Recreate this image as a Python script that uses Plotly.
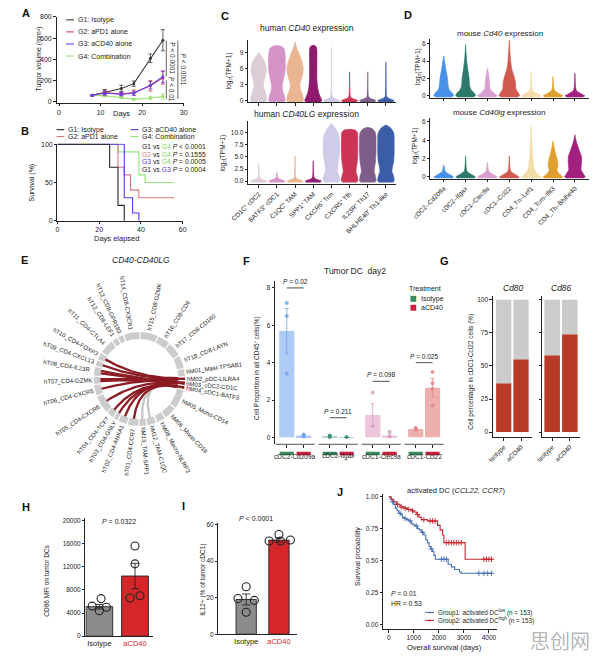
import numpy as np
import plotly.graph_objects as go
from collections import defaultdict

W, H = 596, 659
FONT = "Liberation Sans, Arial, Helvetica, sans-serif"
INK = "#222222"

# ============================ DATA ============================
# Panel A - tumour growth curves
a_days = [8, 11, 15, 18, 22, 25]
a_g1 = [60, 90, 125, 170, 410, 580]
a_g1_err = [6, 25, 30, 25, 40, 100]
a_g2 = [60, 85, 72, 85, 150, 225]
a_g2_err = [6, 20, 15, 25, 50, 60]
a_g3 = [60, 80, 70, 80, 155, 235]
a_g3_err = [6, 20, 15, 20, 35, 55]
a_g4 = [60, 55, 40, 22, 35, 48]
a_g4_err = [6, 10, 10, 8, 15, 25]
a_names = ["G1: Isotype", "G2: aPD1 alone", "G3: aCD40 alone", "G4: Combination"]
a_pvals = ["<i>P</i> &lt; 0.0001", "<i>P</i> &lt; 0.01", "<i>P</i> &lt; 0.0001"]

# Panel B - survival
b_g1_t = [0, 25, 29, 32]
b_g1_s = [100, 70, 20, 0]
b_g2_t = [0, 29, 32, 35, 39, 56]
b_g2_s = [100, 70, 60, 40, 30, 30]
b_g3_t = [0, 32, 36, 39]
b_g3_s = [100, 30, 10, 0]
b_g4_t = [0, 29, 39, 42, 56]
b_g4_s = [100, 90, 60, 50, 50]
b_cmp_a = ["G1", "G2", "G3", "G1"]
b_cmp_b = ["G4", "G4", "G4", "G3"]
b_cmp_p = ["&lt; 0.0001", "= 0.1555", "= 0.0005", "= 0.0004"]

# Panel C - human violins (profile: levels / relative half-widths)
c_labels = ["CD1C⁺ cDC2", "BATF3⁺ cDC1", "C1QC⁺ TAM", "SPP1⁺ TAM", "CXCR6⁺ Trm",
            "CXCR5⁺ Tfh", "IL23R⁺ Th17", "BHLHE40⁺ Th1-like"]


def spike(top, base):
    return [base, 0, 0.25, 0.6, 1.0, top], [0.33, 0.45, 0.28, 0.07, 0.03, 0.0]


c_cd40 = [
    ([-0.3, 0, 0.8, 1.8, 2.6, 3.5, 4.5, 5.5, 6.5, 7.5, 8.3, 9.0],
     [0.33, 0.44, 0.42, 0.34, 0.26, 0.28, 0.36, 0.42, 0.40, 0.30, 0.14, 0.0]),
    ([-0.3, 0, 1, 2, 3, 4, 5, 6, 7, 8, 9, 9.8, 10.2, 10.35],
     [0.33, 0.45, 0.40, 0.30, 0.30, 0.36, 0.42, 0.46, 0.46, 0.46, 0.44, 0.38, 0.22, 0.0]),
    ([-0.3, 0, 1, 2, 3, 4, 5, 6, 7, 8, 9, 10, 11],
     [0.33, 0.45, 0.42, 0.30, 0.26, 0.34, 0.42, 0.45, 0.40, 0.30, 0.20, 0.08, 0.0]),
    ([-0.3, 0, 0.6, 1.5, 2.5, 4, 6, 8, 9.5, 10.1, 10.4],
     [0.33, 0.47, 0.40, 0.30, 0.24, 0.20, 0.20, 0.20, 0.20, 0.16, 0.0]),
    spike(10.0, -0.3), spike(5.4, -0.3), spike(5.4, -0.3), spike(7.2, -0.3),
]
c_cd40lg = [
    spike(3.7, -0.3), spike(1.8, -0.3), spike(5.2, -0.3), spike(4.2, -0.3),
    ([-0.3, 0, 1, 2, 3, 4, 5, 6, 7, 8, 9, 10, 11, 11.9],
     [0.33, 0.45, 0.42, 0.34, 0.34, 0.38, 0.42, 0.45, 0.45, 0.45, 0.43, 0.35, 0.20, 0.0]),
    ([-0.3, 0, 1, 2, 3, 4, 6, 8, 9, 10, 10.5, 10.7],
     [0.33, 0.45, 0.42, 0.35, 0.38, 0.42, 0.45, 0.45, 0.45, 0.43, 0.32, 0.0]),
    ([-0.3, 0, 1, 2, 3, 4, 6, 8, 9, 10, 10.8, 11.1],
     [0.33, 0.45, 0.42, 0.35, 0.38, 0.42, 0.45, 0.45, 0.45, 0.42, 0.25, 0.0]),
    ([-0.3, 0, 1, 2, 3, 4, 6, 8, 9, 10, 11, 11.6],
     [0.33, 0.45, 0.42, 0.33, 0.36, 0.42, 0.45, 0.45, 0.45, 0.42, 0.25, 0.0]),
]

# Panel D - mouse violins
d_labels = ["cDC2–Cd209a", "cDC2–Itgax", "cDC1–Clec9a", "cDC1–Ccl22",
            "CD4_Tn–Lef1", "CD4_Tcm–Ifit3", "CD4_Th–Bhlhe40"]
d_cd40 = [
    ([-0.15, 0, 0.3, 0.7, 1.2, 2, 3, 4, 4.6],
     [0.33, 0.45, 0.40, 0.25, 0.20, 0.17, 0.10, 0.04, 0.0]),
    ([-0.15, 0, 0.3, 0.7, 1.2, 2, 3, 4, 5, 5.9],
     [0.33, 0.45, 0.40, 0.25, 0.18, 0.16, 0.10, 0.05, 0.02, 0.0]),
    ([-0.15, 0, 0.3, 0.8, 1.5, 2.5, 3.2],
     [0.33, 0.45, 0.30, 0.12, 0.10, 0.05, 0.0]),
    ([-0.15, 0, 0.3, 0.8, 1.5, 2.2, 3, 4, 5, 6.4],
     [0.33, 0.47, 0.42, 0.30, 0.28, 0.22, 0.12, 0.06, 0.03, 0.0]),
    spike(2.8, -0.15), spike(2.2, -0.15), spike(2.6, -0.15),
]
d_cd40lg = [
    spike(1.3, -0.15), spike(2.3, -0.15), spike(1.6, -0.15), spike(2.3, -0.15),
    ([-0.15, 0, 0.3, 0.8, 1.5, 2.5, 3.5, 4.5, 5.6],
     [0.33, 0.45, 0.30, 0.15, 0.10, 0.06, 0.04, 0.02, 0.0]),
    ([-0.15, 0, 0.3, 0.7, 1.2, 1.8, 2.5, 3.2, 3.9],
     [0.33, 0.45, 0.30, 0.18, 0.22, 0.20, 0.12, 0.05, 0.0]),
    ([-0.15, 0, 0.3, 0.8, 1.5, 2.2, 3, 3.8, 4.6],
     [0.33, 0.47, 0.40, 0.28, 0.30, 0.30, 0.18, 0.07, 0.0]),
]

# Panel E - CD40-CD40LG chord diagram
e_segments = ["hT01_CD4-CCR7", "hT02_CD4-ANXA1", "hT03_CD4-GNLY", "hT04_CD4-TCF7",
              "hT05_CD4-CXCR6", "hT06_CD4-CXCR5", "hT07_CD4-GZMK", "hT08_CD4-IL23R",
              "hT09_CD4-CXCL13", "hT10_CD4-FOXP3", "hT11_CD4-CTLA4", "hT12_CD8-LEF1",
              "hT13_CD8-GPR183", "hT14_CD8-CX3CR1", "hT15_CD8-GZMK", "hT16_CD8-CD6",
              "hT17_CD8-CD160", "hT18_CD8-LAYN", "hM01_Mast-TPSAB1", "hM02_pDC-LILRA4",
              "hM03_cDC2-CD1C", "hM04_cDC1-BATF3", "hM05_Mono-CD14", "hM06_Mono-CD16",
              "hM08_Macro-NLRP3", "hM12_TAM-C1QC", "hM13_TAM-SPP1"]
e_sizes = [12, 10, 5, 8, 20, 12, 8, 10, 6, 8, 16, 6, 6, 18, 20, 14, 16, 14,
           8, 3, 4, 3, 22, 14, 10, 10, 8]
e_link_src = ["hM03", "hM04", "hM02", "hM02", "hM03", "hM03", "hM03", "hM02",
              "hM02", "hM03", "hM04", "hM04", "hM03", "hM04"]
e_link_dst = ["hM12", "hM13", "hT10", "hT09", "hT08", "hT08", "hT07", "hT07",
              "hT06", "hT05", "hT04", "hT03", "hT02", "hT01"]

# Panel F - tumour DC proportions
f_groups = ["cDC2-Cd209a", "cDC2-Itgax", "cDC1-Clec9a", "cDC1-Ccl22"]
f_iso_mean = [5.7, 0.05, 1.2, 0.45]
f_iso_sem = [1.2, 0.03, 0.6, 0.06]
f_cd40_mean = [0.1, 0.01, 0.1, 2.65]
f_cd40_sem = [0.05, 0.01, 0.08, 0.5]
f_iso_pts = [[7.2, 6.5, 3.4], [0.1, 0.02], [2.4, 0.6], [0.5, 0.45, 0.4]]
f_cd40_pts = [[0.05, 0.1, 0.15], [0.02], [0.3, 0.05], [3.5, 2.9, 2.6, 1.7]]
f_pvals = ["0.02", "0.211", "0.098", "0.025"]
f_pline_y = [8.0, 1.05, 3.0, 4.0]
f_treat = ["Isotype", "aCD40"]

# Panel G - Cd80 / Cd86 positive fraction
g_markers = ["Cd80", "Cd86"]
g_treat = ["Isotype", "aCD40"]
g_pos_pct = [[37, 55], [58, 74]]

# Panel H - CD86 MFI
h_groups = ["Isotype", "aCD40"]
h_mean = [5100, 10400]
h_sem = [400, 2200]
h_pts = [[6500, 5200, 5000, 4400], [15600, 12500, 6600, 7000]]
h_jitter = [[0.05, -0.2, 0.2, 0.0], [0.0, 0.0, -0.14, 0.14]]

# Panel I - IL12+
i_groups = ["Isotype", "aCD40"]
i_mean = [19, 51.5]
i_sem = [3, 1.2]
i_pts = [[26, 19.5, 18.5, 12], [54.5, 51, 51, 51.5]]
i_jitter = [[0.0, -0.25, 0.25, 0.0], [0.0, -0.3, 0.05, 0.35]]

# Panel J - Kaplan-Meier
j_low_t = [0, 60, 130, 200, 260, 330, 400, 470, 540, 600, 700, 800, 900, 960, 1050,
           1150, 1220, 1300, 1400, 1480, 1550, 1610, 1680, 1740, 1800, 1860, 2370,
           2500, 2630, 2820, 2890, 4150]
j_low_s = [1.0, 0.98, 0.96, 0.94, 0.91, 0.89, 0.87, 0.86, 0.84, 0.83, 0.82, 0.81,
           0.79, 0.78, 0.77, 0.75, 0.74, 0.72, 0.70, 0.66, 0.64, 0.61, 0.59, 0.57,
           0.54, 0.51, 0.47, 0.45, 0.43, 0.41, 0.40, 0.40]
j_high_t = [0, 100, 200, 300, 450, 600, 750, 900, 1000, 1100, 1200, 1300, 1550,
            1950, 2050, 2150, 2200, 3050, 4150]
j_high_s = [1.0, 0.98, 0.96, 0.94, 0.92, 0.91, 0.90, 0.89, 0.88, 0.86, 0.84, 0.82,
            0.81, 0.775, 0.74, 0.70, 0.64, 0.51, 0.51]
j_low_cens = [150, 450, 650, 850, 1100, 1350, 1700, 2100, 2200, 2300, 3600, 3800,
              3950, 4100]
j_high_cens = [350, 500, 650, 800, 950, 1150, 1400, 1650, 1750, 1850, 2300, 2400,
               2500, 2600, 2700, 2800, 2900, 3800, 3900, 4000, 4100]
j_names = ["Group1: activated DC<sup>low</sup> (n = 153)",
           "Group2: activated DC<sup>high</sup> (n = 153)"]

# ============================ STYLE / HELPERS ============================
A_COL = ["#3a3a3a", "#d2405c", "#6a3ee6", "#9ee36c"]
B_COL = ["#222222", "#d9787a", "#4b3de6", "#8fe67a"]
C_COL_TOP = ["#dccdd8", "#d494c8", "#e9b592", "#8e1b6e", "#cfcbe8", "#cc3456", "#7e5d8a", "#3b5ca6"]
D_COL = ["#4a90e8", "#2d7a6c", "#d8a0d0", "#d05a50", "#f3dca8", "#e0a030", "#a3207f"]
F_FILL = ["#aecbf5", "#b5d6c9", "#ecc6dc", "#eeb0ae"]
F_DOT = ["#6fa4ee", "#3b8d6d", "#d9a0c3", "#e08a8a"]
F_TREAT = ["#3a8a5c", "#c8203c"]
RED = "#b83b28"
CHORD_RED = "#8b1c24"
LOG2 = "log₂(TPM+1)"

fig = go.Figure()
annotations = []
shapes = []
AX = [0]


def px2x(x):
    return x / W


def px2y(y):
    return 1 - y / H


def pann(x, y, text, size=7, color=INK, xanchor="center", yanchor="middle",
         textangle=0, family=FONT):
    annotations.append(dict(x=px2x(x), y=px2y(y), xref="paper", yref="paper", text=text,
                            showarrow=False, xanchor=xanchor, yanchor=yanchor,
                            textangle=textangle, borderpad=0,
                            font=dict(size=size, color=color, family=family)))


def pline(x0, y0, x1, y1, color=INK, width=0.8):
    shapes.append(dict(type="line", xref="paper", yref="paper", x0=px2x(x0), y0=px2y(y0),
                       x1=px2x(x1), y1=px2y(y1), line=dict(color=color, width=width)))


def prect(x0, y0, x1, y1, color):
    shapes.append(dict(type="rect", xref="paper", yref="paper", x0=px2x(x0), y0=px2y(y0),
                       x1=px2x(x1), y1=px2y(y1), line=dict(width=0), fillcolor=color))


def add_axes(x0, x1, y0, y1, xr, yr, xkw=None, ykw=None, tick_size=7):
    AX[0] += 1
    n = AX[0]
    s = "" if n == 1 else str(n)
    base = dict(showline=True, linecolor=INK, linewidth=0.8, ticks="outside", ticklen=2.5,
                tickwidth=0.8, tickcolor=INK, showgrid=False, zeroline=False,
                fixedrange=True)
    xd = dict(base, domain=[x0 / W, x1 / W], range=xr, anchor="y" + s,
              tickfont=dict(size=tick_size, family=FONT, color=INK))
    yd = dict(base, domain=[1 - y1 / H, 1 - y0 / H], range=yr, anchor="x" + s,
              tickfont=dict(size=tick_size, family=FONT, color=INK))
    if xkw:
        xd.update(xkw)
    if ykw:
        yd.update(ykw)
    fig.update_layout({"xaxis" + s: xd, "yaxis" + s: yd})
    return "x" + s, "y" + s


def add(tr, xa, ya):
    tr.update(xaxis=xa, yaxis=ya, showlegend=False, hoverinfo="skip")
    fig.add_trace(tr)


def violin(xa, ya, center, prof, color):
    lv = np.array(prof[0], float)
    wd = np.array(prof[1], float)
    xs = np.concatenate([center + wd, (center - wd)[::-1]])
    ys = np.concatenate([lv, lv[::-1]])
    add(go.Scatter(x=xs, y=ys, mode="lines", fill="toself", fillcolor=color,
                   line=dict(color=color, width=0.7, shape="spline", smoothing=0.6)), xa, ya)


# ============================ PANEL A ============================
xa, ya = add_axes(40, 172, 13, 100, [-0.6, 30], [-12, 800],
                  xkw=dict(tickvals=[0, 10, 20, 30]),
                  ykw=dict(tickvals=[0, 200, 400, 600, 800]))
for vals, errs, col in [(a_g1, a_g1_err, A_COL[0]), (a_g4, a_g4_err, A_COL[3]),
                        (a_g2, a_g2_err, A_COL[1]), (a_g3, a_g3_err, A_COL[2])]:
    add(go.Scatter(x=a_days, y=vals, mode="lines+markers",
                   line=dict(color=col, width=1.1), marker=dict(size=3, color=col),
                   error_y=dict(type="data", array=errs, color=col, thickness=0.8, width=2)),
        xa, ya)
for i, (name, col) in enumerate(zip(a_names, A_COL)):
    yy = 16 + i * 12.2
    pline(50, yy, 58, yy, col, 1.1)
    pann(61, yy, name, size=7, xanchor="left")
pann(22, 56, "Tumor volume (mm³)", size=7, textangle=-90)
pann(107, 111, "Days", size=7.5)
pline(154, 37, 154, 73, INK, 0.7)
pline(154, 77, 154, 96, INK, 0.7)
pline(166, 37, 166, 96, INK, 0.7)
pann(160, 55, a_pvals[0], size=6.5, textangle=90)
pann(160, 86, a_pvals[1], size=6.5, textangle=90)
pann(172, 66, a_pvals[2], size=6.5, textangle=90)

# ============================ PANEL B ============================
xb, yb = add_axes(41, 171, 141, 219, [0, 60], [0, 101],
                  xkw=dict(tickvals=[0, 20, 40, 60]),
                  ykw=dict(tickvals=[0, 50, 100]))
for t, s, col in [(b_g4_t, b_g4_s, B_COL[3]), (b_g2_t, b_g2_s, B_COL[1]),
                  (b_g3_t, b_g3_s, B_COL[2]), (b_g1_t, b_g1_s, B_COL[0])]:
    add(go.Scatter(x=t, y=s, mode="lines", line=dict(color=col, width=1.1, shape="hv")), xb, yb)
b_legend = [(a_names[0], B_COL[0], 40, 127), (a_names[1], B_COL[1], 40, 134),
            (a_names[2], B_COL[2], 117, 127), (a_names[3], B_COL[3], 117, 134)]
for name, col, x0, yy in b_legend:
    pline(x0, yy, x0 + 8, yy, col, 1.1)
    pann(x0 + 11, yy, name, size=7, xanchor="left")
gcol = {"G1": B_COL[0], "G2": B_COL[1], "G3": B_COL[2], "G4": "#7fd86a"}
for i, (g1, g2, p) in enumerate(zip(b_cmp_a, b_cmp_b, b_cmp_p)):
    txt = (f"<span style='color:{gcol[g1]}'>{g1}</span> vs "
           f"<span style='color:{gcol[g2]}'>{g2}</span> <i>P</i> {p}")
    pann(128, 144.3 + i * 7.5, txt, size=6.8, xanchor="left")
pann(15, 180, "Survival (%)", size=7, textangle=-90)
pann(102, 237, "Days elapsed", size=7.5)

# ============================ PANEL C ============================
xc1, yc1 = add_axes(239, 393, 36.7, 99.3, [-0.58, 7.58], [-0.3, 11.3],
                    xkw=dict(tickvals=list(range(8)), showticklabels=False),
                    ykw=dict(tickvals=[0, 3, 6, 9]), tick_size=6.5)
for i, prof in enumerate(c_cd40):
    violin(xc1, yc1, i, prof, C_COL_TOP[i])
xc2, yc2 = add_axes(239, 393, 118.3, 182.3, [-0.58, 7.58], [-0.67, 12.4],
                    xkw=dict(tickvals=list(range(8)), ticktext=c_labels, tickangle=-45),
                    ykw=dict(tickvals=[0, 2.5, 5, 7.5, 10],
                             ticktext=["0.0", "2.5", "5.0", "7.5", "10.0"]), tick_size=6.5)
for i, prof in enumerate(c_cd40lg):
    violin(xc2, yc2, i, prof, C_COL_TOP[i])
pann(300, 24, "human <i>CD40</i> expression", size=8.5)
pann(300, 111, "human <i>CD40LG</i> expression", size=8.5)
pann(219, 67, LOG2, size=6.5, textangle=-90)
pann(213, 151, LOG2, size=6.5, textangle=-90)

# ============================ PANEL D ============================
xd1, yd1 = add_axes(428, 593, 35, 95, [-0.62, 6.65], [-0.25, 6.6],
                    xkw=dict(tickvals=list(range(7)), showticklabels=False),
                    ykw=dict(tickvals=[0, 2, 4, 6]), tick_size=6.5)
for i, prof in enumerate(d_cd40):
    violin(xd1, yd1, i, prof, D_COL[i])
xd2, yd2 = add_axes(428, 593, 115, 176.7, [-0.62, 6.65], [-0.2, 6.45],
                    xkw=dict(tickvals=list(range(7)), ticktext=d_labels, tickangle=-45),
                    ykw=dict(tickvals=[0, 2, 4, 6]), tick_size=6.5)
for i, prof in enumerate(d_cd40lg):
    violin(xd2, yd2, i, prof, D_COL[i])
pann(500, 30, "mouse <i>Cd40</i> expression", size=8)
pann(500, 110, "mouse <i>Cd40lg</i> expression", size=8)
pann(416, 63, LOG2, size=6.5, textangle=-90)
pann(413, 143, LOG2, size=6.5, textangle=-90)

# ============================ PANEL E ============================
CX, CY = 126, 379
xe, ye = add_axes(0, 210, 262, 495, [-CX, 210 - CX], [CY - 495, CY - 262],
                  xkw=dict(showline=False, ticks="", showticklabels=False),
                  ykw=dict(showline=False, ticks="", showticklabels=False))
n_seg = len(e_segments)
GAP = 1.6
scale = (360 - n_seg * GAP) / sum(e_sizes)
seg_key = {name.split("_")[0]: name for name in e_segments}
seg_start, seg_end, seg_mid = {}, {}, {}
cur = 262 + e_sizes[0] * scale / 2
for name, sz in zip(e_segments, e_sizes):
    span = sz * scale
    seg_start[name] = cur
    seg_end[name] = cur - span
    seg_mid[name] = cur - span / 2
    cur -= span + GAP
links = [(seg_key[s], seg_key[d]) for s, d in zip(e_link_src, e_link_dst)]
red_src = {s for s, d in links if d.startswith("hT")}
R_OUT, R_IN = 47.5, 40.5
for name in e_segments:
    a = np.radians(np.linspace(seg_start[name], seg_end[name], 30))
    xs = np.concatenate([R_OUT * np.cos(a), R_IN * np.cos(a[::-1])])
    ys = np.concatenate([R_OUT * np.sin(a), R_IN * np.sin(a[::-1])])
    col = CHORD_RED if name in red_src else "#cccccc"
    add(go.Scatter(x=xs, y=ys, mode="lines", fill="toself", fillcolor=col,
                   line=dict(width=0, color=col)), xe, ye)
ends = defaultdict(list)
for k, (s, d) in enumerate(links):
    ends[s].append(k)
    ends[d].append(k)


def end_angle(seg, k):
    idx = ends[seg].index(k)
    frac = (idx + 1) / (len(ends[seg]) + 1)
    return seg_start[seg] - frac * (seg_start[seg] - seg_end[seg])


tt = np.linspace(0, 1, 50)
for k, (s, d) in enumerate(links):
    a1 = np.radians(end_angle(s, k))
    a2 = np.radians(end_angle(d, k))
    p0 = np.array([np.cos(a1), np.sin(a1)]) * R_IN
    p2 = np.array([np.cos(a2), np.sin(a2)]) * R_IN
    bx = (1 - tt) ** 2 * p0[0] + tt ** 2 * p2[0]
    by = (1 - tt) ** 2 * p0[1] + tt ** 2 * p2[1]
    col = CHORD_RED if d.startswith("hT") else "#c4c4c4"
    add(go.Scatter(x=bx, y=by, mode="lines", line=dict(color=col, width=2.3)), xe, ye)
for name in e_segments:
    th = seg_mid[name] % 360
    rad = np.radians(th)
    L = len(name) * 3.25
    r = 53 + L / 2
    xp = CX + r * np.cos(rad)
    yp = CY - r * np.sin(rad)
    if np.cos(rad) >= 0:
        ta = -(((th + 180) % 360) - 180)
    else:
        ta = -(th - 180)
    pann(xp, yp, name, size=6, textangle=ta)
pann(128, 259, "<i>CD40-CD40LG</i>", size=8.5)

# ============================ PANEL F ============================
f_base = [g * 2.55 for g in range(len(f_groups))]
f_pos = [p for b in f_base for p in (b, b + 1)]
xf, yf = add_axes(267, 442, 280, 445, [-0.69, 9.31], [-0.37, 8.37],
                  xkw=dict(showline=False, tickvals=f_pos, showticklabels=False),
                  ykw=dict(tickvals=[0, 2, 4, 6, 8]), tick_size=6.5)
for g, b in enumerate(f_base):
    add(go.Bar(x=[b, b + 1], y=[f_iso_mean[g], f_cd40_mean[g]], width=0.9,
               marker=dict(color=F_FILL[g], line=dict(width=0)),
               error_y=dict(type="data", array=[f_iso_sem[g], f_cd40_sem[g]],
                            color=F_DOT[g], thickness=0.8, width=2)), xf, yf)
    add(go.Scatter(x=[b] * len(f_iso_pts[g]) + [b + 1] * len(f_cd40_pts[g]),
                   y=f_iso_pts[g] + f_cd40_pts[g], mode="markers",
                   marker=dict(size=4, color=F_DOT[g], opacity=0.85)), xf, yf)
    shapes.append(dict(type="line", xref=xf, yref="paper", x0=b - 0.66, x1=b + 1.66,
                       y0=px2y(445), y1=px2y(445), line=dict(color=INK, width=0.8)))
    for j, p in enumerate((b, b + 1)):
        shapes.append(dict(type="rect", xref=xf, yref="paper", x0=p - 0.42, x1=p + 0.42,
                           y0=px2y(456), y1=px2y(452.5), line=dict(width=0),
                           fillcolor=F_TREAT[j]))
    annotations.append(dict(x=b + 0.5, y=px2y(463), xref=xf, yref="paper",
                            text=f_groups[g], showarrow=False,
                            font=dict(size=6.5, family=FONT, color=INK)))
    shapes.append(dict(type="line", xref=xf, yref=yf, x0=b, x1=b + 1,
                       y0=f_pline_y[g], y1=f_pline_y[g], line=dict(color=INK, width=0.8)))
    annotations.append(dict(x=b + 0.5, y=f_pline_y[g], xref=xf, yref=yf, yanchor="bottom",
                            yshift=1, text=f"<i>P</i> = {f_pvals[g]}", showarrow=False,
                            font=dict(size=6.5, family=FONT, color=INK)))
pann(350, 270, "Tumor DC  day2", size=8.5)
pann(248, 368, "Cell Proportion in all CD45⁺ cells(%)", size=6.5, textangle=-90)
pann(423, 288, "Treatment", size=7)
for j, name in enumerate(f_treat):
    yy = 298 + j * 9
    prect(407.5, yy - 3, 413.5, yy + 3, F_TREAT[j])
    pann(417, yy, name, size=7, xanchor="left")

# ============================ PANEL G ============================
g_doms = [(493, 534, [-0.63, 1.65]), (544, 584, [-0.58, 1.6])]
for m, (x0, x1, xr) in enumerate(g_doms):
    xg, yg = add_axes(x0, x1, 295, 438, xr, [-4, 103],
                      xkw=dict(tickvals=[0, 1], ticktext=g_treat, tickangle=-45),
                      ykw=dict(tickvals=[0, 25, 50, 75, 100], showticklabels=(m == 0)),
                      tick_size=6.5)
    vals = g_pos_pct[m]
    add(go.Bar(x=[0, 1], y=vals, width=0.88, marker=dict(color=RED, line=dict(width=0))), xg, yg)
    add(go.Bar(x=[0, 1], y=[100 - v for v in vals], base=vals, width=0.88,
               marker=dict(color="#cbcbcb", line=dict(width=0))), xg, yg)
    pann((x0 + x1) / 2 + 0.5, 287, f"<i>{g_markers[m]}</i>", size=8.5)
pann(470, 372, "Cell percentage in cDC1-Ccl22 cells (%)", size=6.5, textangle=-90)

# ============================ PANEL H ============================
HCOL = ["#8c8c8c", "#d5262a"]
xh, yh = add_axes(70, 140, 520, 639, [-0.39, 1.5], [0, 20342],
                  xkw=dict(tickvals=[0, 1], ticks="",
                           ticktext=[h_groups[0], f"<span style='color:{HCOL[1]}'>{h_groups[1]}</span>"],
                           tickfont=dict(size=7.5, family=FONT, color=INK)),
                  ykw=dict(tickvals=[0, 4000, 8000, 12000, 16000, 20000],
                           ticktext=["0", "4000", "8000", "12000", "16000", "20000"]),
                  tick_size=6.5)
add(go.Bar(x=[0, 1], y=h_mean, width=0.75,
           marker=dict(color=HCOL, line=dict(color=INK, width=0.9)),
           error_y=dict(type="data", array=h_sem, color=INK, thickness=0.9, width=4)), xh, yh)
for g in range(2):
    add(go.Scatter(x=[g + j for j in h_jitter[g]], y=h_pts[g], mode="markers",
                   marker=dict(symbol="circle-open", size=8, color=INK, line=dict(width=1.1))),
        xh, yh)
pann(105, 523, "<i>P</i> = 0.0322", size=7)
pann(30, 583, "CD86 MFI on tumor DCs", size=6.5, textangle=-90)

# ============================ PANEL I ============================
xi, yi = add_axes(208, 290, 525, 637, [-0.85, 1.56], [0, 60.6],
                  xkw=dict(tickvals=[0, 1], ticks="",
                           ticktext=[i_groups[0], f"<span style='color:{HCOL[1]}'>{i_groups[1]}</span>"],
                           tickfont=dict(size=7.5, family=FONT, color=INK)),
                  ykw=dict(tickvals=[0, 20, 40, 60]), tick_size=6.5)
add(go.Bar(x=[0, 1], y=i_mean, width=0.62,
           marker=dict(color=HCOL, line=dict(color=INK, width=0.9)),
           error_y=dict(type="data", array=i_sem, color=INK, thickness=0.9, width=4)), xi, yi)
for g in range(2):
    add(go.Scatter(x=[g + j for j in i_jitter[g]], y=i_pts[g], mode="markers",
                   marker=dict(symbol="circle-open", size=8, color=INK, line=dict(width=1.1))),
        xi, yi)
pann(247, 520, "<i>P</i> &lt; 0.0001", size=7)
pann(192, 582, "IL12+ (% of tumor cDC1)", size=6.5, textangle=-90)

# ============================ PANEL J ============================
JCOL = ["#4a6fb5", "#c0282e"]
xj, yj = add_axes(379, 497, 495, 632, [-230, 4308], [-0.039, 1.023],
                  xkw=dict(tickvals=[0, 1000, 2000, 3000, 4000]),
                  ykw=dict(tickvals=[0, 0.25, 0.5, 0.75, 1.0],
                           ticktext=["0.00", "0.25", "0.50", "0.75", "1.00"]), tick_size=6.5)


def km_at(ts, ss, c):
    idx = np.searchsorted(np.array(ts), c, side="right") - 1
    return ss[idx]


for t, s, cens, col in [(j_low_t, j_low_s, j_low_cens, JCOL[0]),
                        (j_high_t, j_high_s, j_high_cens, JCOL[1])]:
    add(go.Scatter(x=t, y=s, mode="lines", line=dict(color=col, width=1.1, shape="hv")), xj, yj)
    add(go.Scatter(x=cens, y=[km_at(t, s, c) for c in cens], mode="markers",
                   marker=dict(symbol="cross-thin", size=4, color=col,
                               line=dict(width=0.9, color=col))), xj, yj)
for k, name in enumerate(j_names):
    yy = 615 + k * 8
    pline(423, yy, 432, yy, JCOL[k], 1.1)
    pann(427.5, yy, "+", size=6, color=JCOL[k])
    pann(435, yy, name, size=6.3, xanchor="left")
pann(386, 596, "<i>P</i> = 0.01", size=6.8, xanchor="left")
pann(386, 606, "HR = 0.53", size=6.8, xanchor="left")
pann(353, 558, "Survival probability", size=7, textangle=-90)
pann(443, 650, "Overall survival (days)", size=7.5)
pann(455, 492, "activated DC (<i>CCL22, CCR7</i>)", size=7.5)

# ============================ PANEL LABELS / WATERMARK ============================
for lab, x, y in [("A", 8, 9), ("B", 7, 128), ("C", 215, 12), ("D", 405, 11),
                  ("E", 7, 259), ("F", 237, 260), ("G", 443, 260), ("H", 8, 508),
                  ("I", 172, 507), ("J", 334, 493)]:
    pann(x, y, f"<b>{lab}</b>", size=11, color="#111111")
pann(563, 643, "思创网", size=20, color="rgba(120,120,120,0.55)",
     family="Noto Sans CJK SC")

fig.update_layout(width=W, height=H, margin=dict(l=0, r=0, t=0, b=0),
                  paper_bgcolor="white", plot_bgcolor="rgba(0,0,0,0)",
                  showlegend=False, barmode="overlay",
                  font=dict(family=FONT, size=7, color=INK),
                  annotations=annotations, shapes=shapes)
fig.write_html("out.html", config={"displayModeBar": False})
